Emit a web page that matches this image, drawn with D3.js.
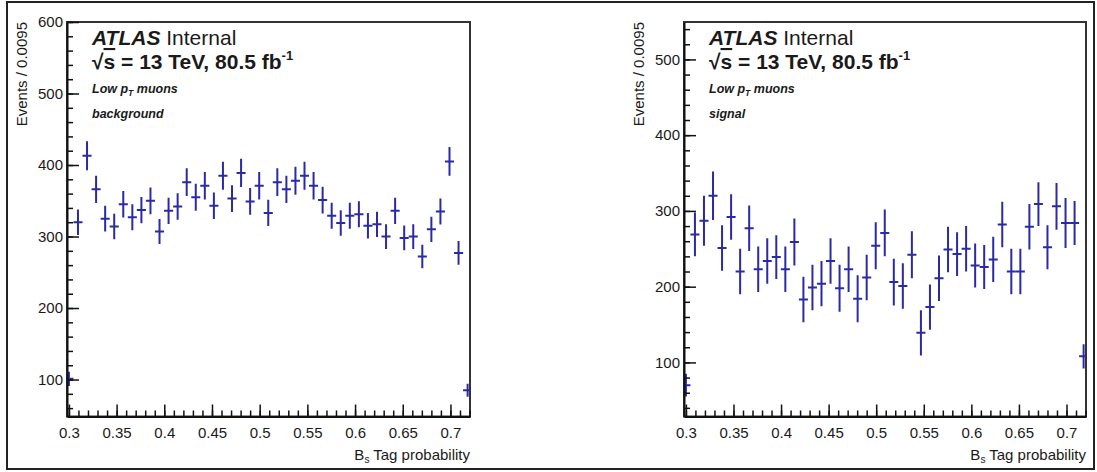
<!DOCTYPE html>
<html>
<head>
<meta charset="utf-8">
<script src="https://cdn.jsdelivr.net/npm/d3@7"></script>
<style>
  html, body { margin: 0; padding: 0; background: #fff; }
  svg { display: block; }
  text { font-family: "Liberation Sans", Arial, Helvetica, sans-serif; fill: #1a1a1a; }
</style>
</head>
<body>
<svg id="chart" width="1097" height="472"></svg>
<script>
// Histogram binning: 45 bins of width 0.0095, first bin centred on 0.3
const binCentreFirst = 0.3;
const binWidth = 0.0095;

// Background sample: events per bin (Poisson errors)
const backgroundCounts = [101, 320, 413, 366, 325, 314, 345, 327, 337, 350,
  307, 336, 342, 376, 355, 371, 343, 385, 353, 389,
  349, 371, 333, 376, 366, 378, 385, 371, 351, 329,
  319, 329, 331, 315, 317, 300, 336, 298, 300, 272,
  310, 335, 405, 277, 85];

// Signal sample: weighted events per bin and their errors
const signalCounts = [70, 269, 287, 320, 251, 292, 220, 277, 223, 234,
  239, 223, 259, 183, 199, 204, 234, 198, 223, 184,
  212, 254, 271, 206, 201, 242, 139, 173, 211, 249,
  243, 250, 228, 226, 236, 282, 220, 220, 279, 309,
  252, 306, 284, 284, 108];
const signalErrors = [15, 29, 33, 32, 30, 30, 30, 30, 30, 30,
  29, 30, 31, 30, 30, 30, 30, 31, 30, 31,
  30, 31, 31, 31, 30, 31, 30, 30, 30, 30,
  29, 30, 29, 29, 30, 30, 30, 30, 30, 29,
  29, 31, 33, 29, 16];

const xTickValues = [0.3, 0.35, 0.4, 0.45, 0.5, 0.55, 0.6, 0.65, 0.7];
const xTickLabels = ["0.3", "0.35", "0.4", "0.45", "0.5", "0.55", "0.6", "0.65", "0.7"];
const yTickValues = [100, 200, 300, 400, 500, 600];

const svg = d3.select("#chart");

// Outer border around both pads
svg.append("rect")
  .attr("x", 7).attr("y", 2).attr("width", 1087).attr("height", 467)
  .attr("fill", "none").attr("stroke", "#222").attr("stroke-width", 2);

const markerColor = "#2a2aa6";

function drawPanel(cfg) {
  const g = svg.append("g");
  const x = d3.scaleLinear().domain([0.298, 0.7205]).range([cfg.left, cfg.right]);
  const y = d3.scaleLinear().domain(cfg.yDomain).range([cfg.bottom, cfg.top]);

  const clipId = "clip-" + cfg.id;
  svg.append("clipPath").attr("id", clipId)
    .append("rect")
    .attr("x", cfg.left).attr("y", cfg.top)
    .attr("width", cfg.right - cfg.left).attr("height", cfg.bottom - cfg.top);

  // Frame
  g.append("rect")
    .attr("x", cfg.left).attr("y", cfg.top)
    .attr("width", cfg.right - cfg.left).attr("height", cfg.bottom - cfg.top)
    .attr("fill", "none").attr("stroke", "#333").attr("stroke-width", 2);

  // Data points with error bars
  const pts = cfg.values.map((v, i) => ({
    c: binCentreFirst + i * binWidth,
    v: v,
    e: cfg.errors ? cfg.errors[i] : Math.sqrt(v)
  }));
  const dg = g.append("g").attr("clip-path", `url(#${clipId})`)
    .attr("stroke", markerColor).attr("stroke-width", 2);
  dg.selectAll("line.v").data(pts).join("line").attr("class", "v")
    .attr("x1", d => x(d.c)).attr("x2", d => x(d.c))
    .attr("y1", d => y(d.v + d.e)).attr("y2", d => y(d.v - d.e));
  dg.selectAll("line.h").data(pts).join("line").attr("class", "h")
    .attr("x1", d => x(d.c - binWidth / 2)).attr("x2", d => x(d.c + binWidth / 2))
    .attr("y1", d => y(d.v)).attr("y2", d => y(d.v));

  // X axis: major and minor ticks pointing inward
  const xMinor = d3.range(30, 73).map(k => k / 100).filter(v => x(v) >= cfg.left && x(v) <= cfg.right);
  g.append("g").attr("transform", `translate(0,${cfg.bottom})`)
    .call(d3.axisBottom(x).tickValues(xMinor).tickFormat("").tickSizeInner(-6).tickSizeOuter(0))
    .call(a => a.select(".domain").remove())
    .call(a => a.selectAll(".tick line").attr("stroke", "#111").attr("stroke-width", 1.5));
  g.append("g").attr("transform", `translate(0,${cfg.bottom})`)
    .call(d3.axisBottom(x).tickValues(xTickValues).tickFormat((d, i) => xTickLabels[i])
      .tickSizeInner(-12).tickSizeOuter(0).tickPadding(11))
    .call(a => a.select(".domain").attr("stroke", "#111").attr("stroke-width", 2))
    .call(a => a.selectAll(".tick line").attr("stroke", "#111").attr("stroke-width", 1.5))
    .call(a => a.selectAll(".tick text").attr("font-size", 15).attr("fill", "#1a1a1a")
      .style("font-family", "'Liberation Sans', Arial, sans-serif"));

  // Y axis
  const yMinor = d3.range(0, 601, 20).filter(v => v >= cfg.yDomain[0] && v <= cfg.yDomain[1]);
  g.append("g").attr("transform", `translate(${cfg.left},0)`)
    .call(d3.axisLeft(y).tickValues(yMinor).tickFormat("").tickSizeInner(-6).tickSizeOuter(0))
    .call(a => a.select(".domain").remove())
    .call(a => a.selectAll(".tick line").attr("stroke", "#111").attr("stroke-width", 1.5));
  g.append("g").attr("transform", `translate(${cfg.left},0)`)
    .call(d3.axisLeft(y).tickValues(yTickValues.filter(v => v <= cfg.yDomain[1]))
      .tickSizeInner(-12).tickSizeOuter(0).tickPadding(4))
    .call(a => a.select(".domain").attr("stroke", "#111").attr("stroke-width", 2))
    .call(a => a.selectAll(".tick line").attr("stroke", "#111").attr("stroke-width", 1.5))
    .call(a => a.selectAll(".tick text").attr("font-size", 15).attr("fill", "#1a1a1a")
      .style("font-family", "'Liberation Sans', Arial, sans-serif"));

  // Axis titles
  g.append("text")
    .attr("transform", `translate(${cfg.left - 45},${cfg.top}) rotate(-90)`)
    .attr("text-anchor", "end").attr("dy", "0.35em")
    .attr("font-size", 15)
    .text("Events / 0.0095");

  const xt = g.append("text")
    .attr("x", cfg.right).attr("y", 460)
    .attr("text-anchor", "end").attr("font-size", 15);
  xt.append("tspan").text("B");
  xt.append("tspan").attr("font-size", 10).attr("dy", 3).text("s");
  xt.append("tspan").attr("dy", -3).text(" Tag probability");

  // Labels inside the frame
  const tx = cfg.left + 25;
  const t1 = g.append("text").attr("x", tx).attr("y", 45).attr("font-size", 21);
  t1.append("tspan").attr("font-weight", "bold").attr("font-style", "italic").text("ATLAS");
  t1.append("tspan").text(" Internal");

  const t2 = g.append("text").attr("x", tx).attr("y", 69).attr("font-size", 21).attr("font-weight", "bold");
  t2.append("tspan").text("√");
  t2.append("tspan").attr("text-decoration", "overline").text("s");
  t2.append("tspan").text(" = 13 TeV, 80.5 fb");
  t2.append("tspan").attr("font-size", 13).attr("dy", -9).text("-1");

  const t3 = g.append("text").attr("x", tx).attr("y", 93).attr("font-size", 12.5)
    .attr("font-weight", "bold").attr("font-style", "italic");
  t3.append("tspan").text("Low p");
  t3.append("tspan").attr("font-size", 8.5).attr("dy", 3).text("T");
  t3.append("tspan").attr("dy", -3).text(" muons");

  g.append("text").attr("x", tx).attr("y", 118).attr("font-size", 12.5)
    .attr("font-weight", "bold").attr("font-style", "italic")
    .text(cfg.sample);
}

drawPanel({
  id: "bkg", left: 67, right: 470, top: 22, bottom: 416.5,
  yDomain: [48.3, 600], values: backgroundCounts, errors: null, sample: "background"
});
drawPanel({
  id: "sig", left: 684, right: 1086, top: 22, bottom: 416.5,
  yDomain: [28.6, 549.4], values: signalCounts, errors: signalErrors, sample: "signal"
});
</script>
</body>
</html>
